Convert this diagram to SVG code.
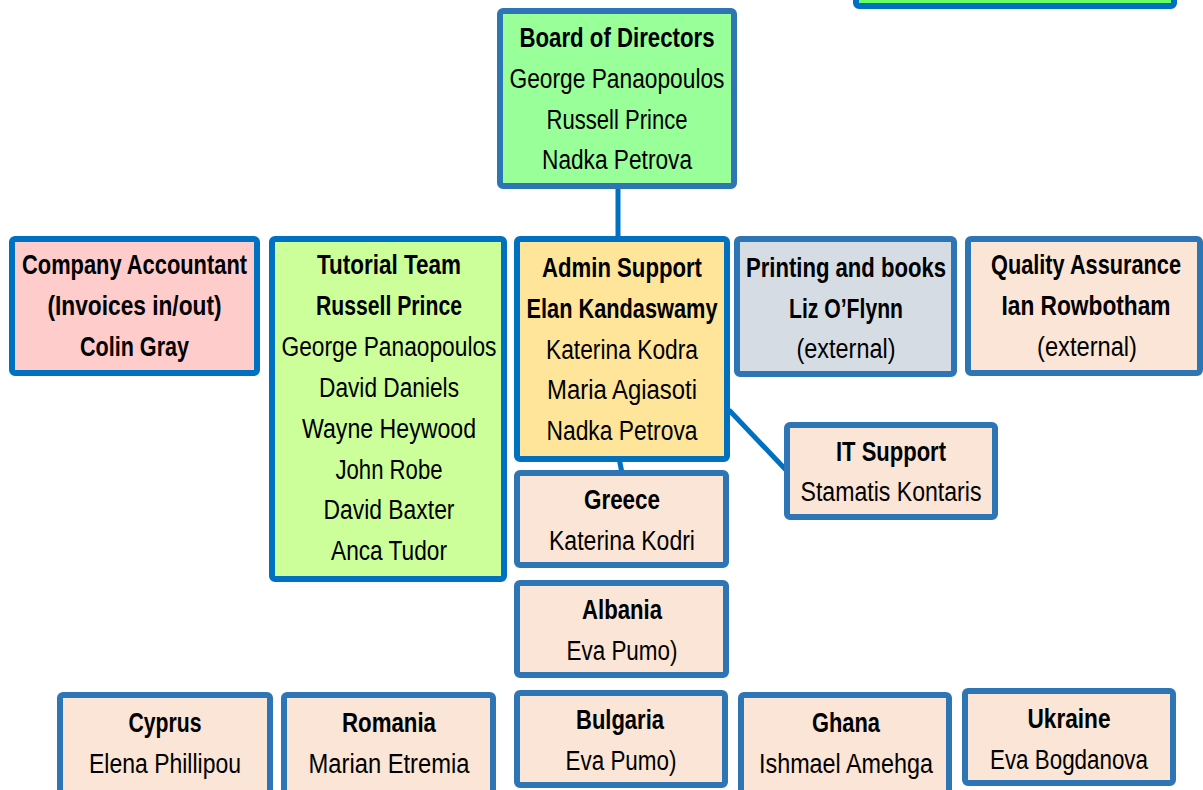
<svg xmlns="http://www.w3.org/2000/svg" width="1203" height="790" viewBox="0 0 1203 790">
<style>
text{font-family:"Liberation Sans Narrow","Liberation Sans",Arial,sans-serif;font-size:27px;fill:#000;text-anchor:middle}
.b{font-weight:bold}
rect{stroke-width:6}
.blue{stroke:#0070C0}
.steel{stroke:#2E75B6}
.peach{fill:#FBE5D6}
.conn{stroke:#0070C0;stroke-width:5;fill:none}
</style>
<rect width="1203" height="790" fill="#fff" stroke="none"/>
<g id="connectors">
<line class="conn" x1="618" y1="189" x2="618" y2="237"/>
<line class="conn" x1="619" y1="458" x2="622" y2="473"/>
<line class="conn" x1="729" y1="410" x2="786" y2="470"/>
</g>
<g id="top-right">
<rect class="blue" x="856" y="-40" width="318" height="46" rx="3" fill="#66FF66"/>
</g>
<g id="board">
<rect class="steel" x="500" y="11" width="234" height="175" rx="3" fill="#99FF99"/>
<text class="b" x="617" y="47" textLength="195" lengthAdjust="spacingAndGlyphs">Board of Directors</text>
<text x="617" y="88" textLength="215" lengthAdjust="spacingAndGlyphs">George Panaopoulos</text>
<text x="617" y="129" textLength="141" lengthAdjust="spacingAndGlyphs">Russell Prince</text>
<text x="617" y="169" textLength="150" lengthAdjust="spacingAndGlyphs">Nadka Petrova</text>
</g>
<g id="accountant">
<rect class="blue" x="12" y="239" width="245" height="134" rx="3" fill="#FFCCCC"/>
<text class="b" x="134.5" y="274" textLength="225" lengthAdjust="spacingAndGlyphs">Company Accountant</text>
<text class="b" x="134.5" y="315" textLength="174" lengthAdjust="spacingAndGlyphs">(Invoices in/out)</text>
<text class="b" x="134.5" y="356" textLength="109" lengthAdjust="spacingAndGlyphs">Colin Gray</text>
</g>
<g id="tutorial">
<rect class="blue" x="272" y="239" width="232" height="340" rx="3" fill="#CCFF99"/>
<text class="b" x="389" y="274" textLength="144" lengthAdjust="spacingAndGlyphs">Tutorial Team</text>
<text class="b" x="389" y="315" textLength="146" lengthAdjust="spacingAndGlyphs">Russell Prince</text>
<text x="389" y="356" textLength="215" lengthAdjust="spacingAndGlyphs">George Panaopoulos</text>
<text x="389" y="397" textLength="140" lengthAdjust="spacingAndGlyphs">David Daniels</text>
<text x="389" y="438" textLength="174" lengthAdjust="spacingAndGlyphs">Wayne Heywood</text>
<text x="389" y="479" textLength="107" lengthAdjust="spacingAndGlyphs">John Robe</text>
<text x="389" y="519" textLength="131" lengthAdjust="spacingAndGlyphs">David Baxter</text>
<text x="389" y="560" textLength="116" lengthAdjust="spacingAndGlyphs">Anca Tudor</text>
</g>
<g id="admin">
<rect class="blue" x="517" y="239" width="210" height="220" rx="3" fill="#FFE599"/>
<text class="b" x="622" y="277" textLength="160" lengthAdjust="spacingAndGlyphs">Admin Support</text>
<text class="b" x="622" y="318" textLength="191" lengthAdjust="spacingAndGlyphs">Elan Kandaswamy</text>
<text x="622" y="359" textLength="152" lengthAdjust="spacingAndGlyphs">Katerina Kodra</text>
<text x="622" y="399" textLength="150" lengthAdjust="spacingAndGlyphs">Maria Agiasoti</text>
<text x="622" y="440" textLength="151" lengthAdjust="spacingAndGlyphs">Nadka Petrova</text>
</g>
<g id="printing">
<rect class="steel" x="737" y="239" width="217" height="135" rx="3" fill="#D6DCE4"/>
<text class="b" x="846" y="277" textLength="200" lengthAdjust="spacingAndGlyphs">Printing and books</text>
<text class="b" x="846" y="318" textLength="114" lengthAdjust="spacingAndGlyphs">Liz O’Flynn</text>
<text x="846" y="358" textLength="99" lengthAdjust="spacingAndGlyphs">(external)</text>
</g>
<g id="quality">
<rect class="steel peach" x="968" y="239" width="232" height="134" rx="3"/>
<text class="b" x="1086" y="274" textLength="190" lengthAdjust="spacingAndGlyphs">Quality Assurance</text>
<text class="b" x="1086" y="315" textLength="169" lengthAdjust="spacingAndGlyphs">Ian Rowbotham</text>
<text x="1087" y="356" textLength="100" lengthAdjust="spacingAndGlyphs">(external)</text>
</g>
<g id="it">
<rect class="steel peach" x="787" y="425" width="208" height="92" rx="3"/>
<text class="b" x="891" y="461" textLength="110" lengthAdjust="spacingAndGlyphs">IT Support</text>
<text x="891" y="501" textLength="181" lengthAdjust="spacingAndGlyphs">Stamatis Kontaris</text>
</g>
<g id="greece">
<rect class="steel peach" x="517" y="473" width="209" height="92" rx="3"/>
<text class="b" x="622" y="509" textLength="76" lengthAdjust="spacingAndGlyphs">Greece</text>
<text x="622" y="550" textLength="146" lengthAdjust="spacingAndGlyphs">Katerina Kodri</text>
</g>
<g id="albania">
<rect class="steel peach" x="517" y="583" width="209" height="92" rx="3"/>
<text class="b" x="622" y="619" textLength="80" lengthAdjust="spacingAndGlyphs">Albania</text>
<text x="622" y="660" textLength="111" lengthAdjust="spacingAndGlyphs">Eva Pumo)</text>
</g>
<g id="cyprus">
<rect class="steel peach" x="60" y="695" width="210" height="100" rx="3"/>
<text class="b" x="165" y="732" textLength="73" lengthAdjust="spacingAndGlyphs">Cyprus</text>
<text x="165" y="773" textLength="152" lengthAdjust="spacingAndGlyphs">Elena Phillipou</text>
</g>
<g id="romania">
<rect class="steel peach" x="284" y="695" width="209" height="100" rx="3"/>
<text class="b" x="389" y="732" textLength="94" lengthAdjust="spacingAndGlyphs">Romania</text>
<text x="389" y="773" textLength="161" lengthAdjust="spacingAndGlyphs">Marian Etremia</text>
</g>
<g id="bulgaria">
<rect class="steel peach" x="517" y="693" width="208" height="92" rx="3"/>
<text class="b" x="620" y="729" textLength="88" lengthAdjust="spacingAndGlyphs">Bulgaria</text>
<text x="621" y="770" textLength="111" lengthAdjust="spacingAndGlyphs">Eva Pumo)</text>
</g>
<g id="ghana">
<rect class="steel peach" x="741" y="695" width="208" height="100" rx="3"/>
<text class="b" x="846" y="732" textLength="68" lengthAdjust="spacingAndGlyphs">Ghana</text>
<text x="846" y="773" textLength="174" lengthAdjust="spacingAndGlyphs">Ishmael Amehga</text>
</g>
<g id="ukraine">
<rect class="steel peach" x="965" y="691" width="208" height="92" rx="3"/>
<text class="b" x="1069" y="728" textLength="83" lengthAdjust="spacingAndGlyphs">Ukraine</text>
<text x="1069" y="769" textLength="158" lengthAdjust="spacingAndGlyphs">Eva Bogdanova</text>
</g>
</svg>
